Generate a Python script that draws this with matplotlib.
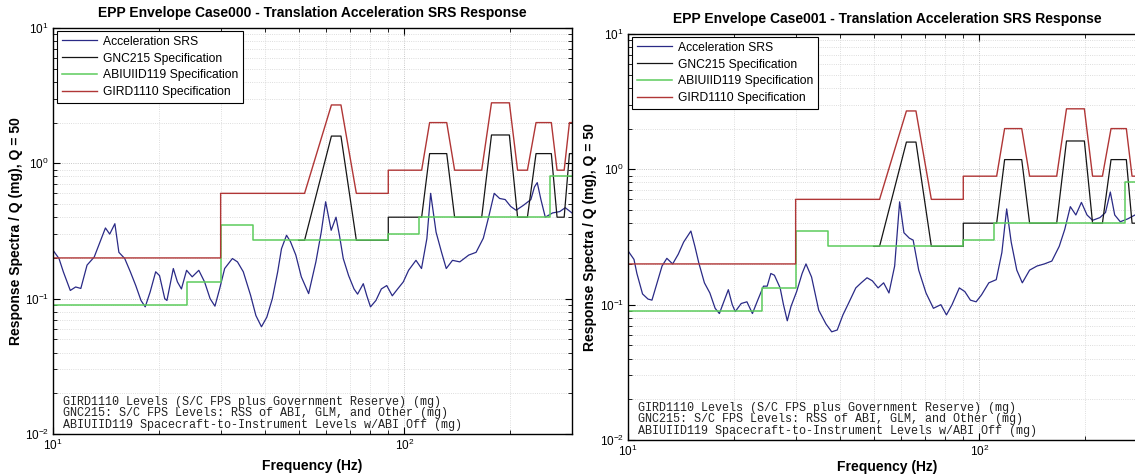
import matplotlib
matplotlib.use("Agg")
import matplotlib.pyplot as plt
from matplotlib.ticker import LogLocator, LogFormatterSciNotation, NullFormatter

plt.rcParams['font.family'] = ['Liberation Sans', 'DejaVu Sans']
plt.rcParams['mathtext.default'] = 'regular'

# ---- specification envelopes (frequency in Hz, level in mg) ----
gird_freq = [10, 30, 30, 52, 62, 66, 73, 90, 90, 112, 118, 132, 139, 166, 177,
             199, 210, 224, 237, 262, 272, 285, 295, 300]
gird_level = [0.2, 0.2, 0.6, 0.6, 2.7, 2.7, 0.6, 0.6, 0.89, 0.89, 2.0, 2.0, 0.89,
              0.89, 2.8, 2.8, 0.89, 0.89, 2.0, 2.0, 0.89, 0.89, 2.0, 2.0]

gnc_freq = [50, 52, 62, 66, 73, 90, 90, 112, 118, 132, 139, 166, 177, 199, 210,
            224, 237, 262, 272, 285, 295, 300]
gnc_level = [0.27, 0.27, 1.59, 1.59, 0.27, 0.27, 0.40, 0.40, 1.18, 1.18, 0.40,
             0.40, 1.62, 1.62, 0.40, 0.40, 1.18, 1.18, 0.40, 0.40, 1.18, 1.18]

abi_freq = [10, 24, 24, 30, 30, 37, 37, 90, 90, 110, 110, 260, 260, 300]
abi_level = [0.09, 0.09, 0.133, 0.133, 0.348, 0.348, 0.27, 0.27, 0.30, 0.30,
             0.40, 0.40, 0.80, 0.80]

# ---- acceleration SRS, Case000 ----
srs0_freq = [10.0, 10.4, 10.7, 11.2, 11.6, 12.0, 12.5, 13.1, 14.1, 14.5, 15.0,
             15.4, 16.0, 16.6, 17.2, 17.8, 18.3, 18.9, 19.6, 20.1, 20.8, 21.1,
             22.0, 22.6, 23.2, 24.0, 24.9, 26.0, 27.0, 28.0, 28.9, 29.8, 30.8,
             32.4, 33.5, 34.8, 36.5, 37.8, 39.2, 40.6, 42.1, 43.6, 44.7, 46.2,
             47.4, 49.1, 50.9, 53.4, 56.0, 58.0, 59.7, 61.9, 63.9, 65.4, 67.0,
             69.4, 71.9, 73.6, 76.4, 78.2, 80.1, 83.0, 86.0, 89.1, 92.4, 95.7,
             99.3, 102.8, 107.9, 111.9, 115.9, 118.8, 123.1, 127.6, 131.6,
             137.1, 143.8, 152.5, 160.0, 167.8, 173.9, 180.2, 186.7, 193.6,
             200.8, 208.0, 218.3, 229.1, 234.6, 238.9, 244.7, 251.8, 264.1,
             276.8, 287.0, 300.0]
srs0_level = [0.228, 0.198, 0.158, 0.115, 0.122, 0.119, 0.177, 0.203, 0.333,
              0.300, 0.358, 0.220, 0.198, 0.158, 0.125, 0.097, 0.087, 0.112,
              0.158, 0.148, 0.100, 0.097, 0.167, 0.133, 0.118, 0.162, 0.145,
              0.162, 0.133, 0.100, 0.088, 0.118, 0.167, 0.198, 0.187, 0.158,
              0.106, 0.075, 0.062, 0.073, 0.100, 0.158, 0.234, 0.294, 0.264,
              0.210, 0.145, 0.109, 0.187, 0.310, 0.520, 0.320, 0.400, 0.290,
              0.198, 0.148, 0.118, 0.108, 0.129, 0.105, 0.087, 0.097, 0.118,
              0.125, 0.105, 0.118, 0.133, 0.162, 0.192, 0.167, 0.278, 0.600,
              0.310, 0.220, 0.167, 0.192, 0.187, 0.210, 0.220, 0.280, 0.405,
              0.600, 0.550, 0.540, 0.480, 0.450, 0.490, 0.540, 0.670, 0.720,
              0.540, 0.400, 0.430, 0.440, 0.470, 0.430]

# ---- acceleration SRS, Case001 ----
srs1_freq = [10.0, 10.4, 10.6, 11.0, 11.4, 11.7, 12.1, 12.5, 12.9, 13.4, 13.9,
             14.4, 15.1, 15.5, 15.9, 16.5, 17.1, 17.7, 18.2, 18.6, 19.3, 19.8,
             20.2, 21.0, 21.8, 22.6, 23.4, 24.3, 24.9, 25.5, 26.1, 27.1, 27.7,
             28.4, 29.1, 30.2, 31.3, 32.1, 33.3, 34.9, 36.6, 38.0, 39.4, 40.9,
             42.4, 44.5, 46.1, 47.9, 49.6, 51.5, 53.4, 55.3, 57.4, 59.3, 61.0,
             63.2, 64.8, 67.2, 70.5, 74.0, 77.7, 80.6, 83.6, 87.7, 90.9, 94.3,
             97.9, 101.4, 106.4, 111.7, 115.9, 119.6, 123.2, 127.8, 132.5,
             139.0, 145.9, 153.1, 160.8, 168.8, 175.0, 181.5, 188.2, 195.2,
             202.5, 210.0, 220.4, 228.6, 235.9, 242.8, 251.8, 264.2, 277.3,
             300.0]
srs1_level = [0.250, 0.216, 0.170, 0.120, 0.110, 0.108, 0.145, 0.193, 0.220,
              0.200, 0.236, 0.290, 0.350, 0.270, 0.204, 0.145, 0.122, 0.094,
              0.086, 0.100, 0.129, 0.100, 0.089, 0.102, 0.105, 0.086, 0.108,
              0.137, 0.137, 0.170, 0.165, 0.133, 0.100, 0.076, 0.097, 0.125,
              0.170, 0.200, 0.160, 0.091, 0.072, 0.063, 0.065, 0.084, 0.102,
              0.133, 0.145, 0.158, 0.150, 0.133, 0.145, 0.122, 0.193, 0.575,
              0.340, 0.310, 0.300, 0.180, 0.122, 0.094, 0.100, 0.084, 0.100,
              0.133, 0.125, 0.108, 0.105, 0.118, 0.145, 0.153, 0.243, 0.510,
              0.290, 0.180, 0.145, 0.180, 0.193, 0.200, 0.210, 0.270, 0.360,
              0.530, 0.460, 0.570, 0.460, 0.420, 0.440, 0.480, 0.680, 0.460,
              0.410, 0.430, 0.460, 0.500]

titles = ["EPP Envelope Case000 - Translation Acceleration SRS Response",
          "EPP Envelope Case001 - Translation Acceleration SRS Response"]
legend_labels = ["Acceleration SRS", "GNC215 Specification",
                 "ABIUIID119 Specification", "GIRD1110 Specification"]
note_lines = ["GIRD1110 Levels (S/C FPS plus Government Reserve) (mg)",
              "GNC215: S/C FPS Levels: RSS of ABI, GLM, and Other (mg)",
              "ABIUIID119 Spacecraft-to-Instrument Levels w/ABI Off (mg)"]

SRS_COLOR = "#2a2a86"
GNC_COLOR = "#151515"
ABI_COLOR = "#5ccc5c"
GIRD_COLOR = "#b03636"

W, H = 1135, 475
fig = plt.figure(figsize=(W / 100, H / 100), dpi=100)
ax_left = fig.add_axes([53 / W, 1 - 434 / H, 519 / W, 406 / H])
ax_right = fig.add_axes([628 / W, 1 - 440 / H, 519 / W, 406 / H])


def draw_panel(ax, srs_f, srs_v, title, ylab_x, xlab_y):
    ax.plot(srs_f, srs_v, color=SRS_COLOR, lw=0.9, label=legend_labels[0])
    ax.plot(gnc_freq, gnc_level, color=GNC_COLOR, lw=0.9, label=legend_labels[1])
    ax.plot(abi_freq, abi_level, color=ABI_COLOR, lw=1.1, label=legend_labels[2])
    ax.plot(gird_freq, gird_level, color=GIRD_COLOR, lw=1.0, label=legend_labels[3])

    ax.set_xscale("log")
    ax.set_yscale("log")
    ax.set_xlim(10, 300)
    ax.set_ylim(0.01, 10)

    for axis in (ax.xaxis, ax.yaxis):
        axis.set_major_locator(LogLocator(base=10, numticks=10))
        axis.set_major_formatter(LogFormatterSciNotation())
        axis.set_minor_locator(LogLocator(base=10, subs=range(2, 10), numticks=20))
        axis.set_minor_formatter(NullFormatter())

    ax.tick_params(which="both", direction="in", top=True, right=True,
                   labelsize=8.5, pad=3)
    ax.tick_params(which="major", length=5, width=0.8)
    ax.tick_params(which="minor", length=3, width=0.6)
    ax.grid(True, which="major", linestyle=":", color="#b5b5b5", linewidth=0.6)
    ax.grid(True, which="minor", linestyle=":", color="#d2d2d2", linewidth=0.6)
    for s in ax.spines.values():
        s.set_linewidth(1.0)

    ax.set_title(title, fontsize=10, fontweight="bold", pad=8)
    ax.set_xlabel("Frequency (Hz)", fontsize=10, fontweight="bold")
    ax.set_ylabel("Response Spectra / Q (mg), Q = 50", fontsize=10,
                  fontweight="bold")
    ax.yaxis.set_label_coords(ylab_x, 0.5)
    ax.xaxis.set_label_coords(0.5, xlab_y)

    leg = ax.legend(loc="upper left", bbox_to_anchor=(0.008, 0.993),
                    borderaxespad=0, fontsize=8.7, handlelength=2.9,
                    handletextpad=0.5, labelspacing=0.4, borderpad=0.4,
                    frameon=True, fancybox=False, framealpha=1)
    leg.get_frame().set_edgecolor("black")
    leg.get_frame().set_linewidth(0.8)

    ax.text(0.019, 0.008, "\n".join(note_lines), transform=ax.transAxes,
            family="Liberation Mono", fontsize=8.5, linespacing=0.95,
            ha="left", va="bottom", color="#222222")


draw_panel(ax_left, srs0_freq, srs0_level, titles[0], -0.057, -0.062)
draw_panel(ax_right, srs1_freq, srs1_level, titles[1], -0.059, -0.050)

fig.savefig("out.png", dpi=100)
